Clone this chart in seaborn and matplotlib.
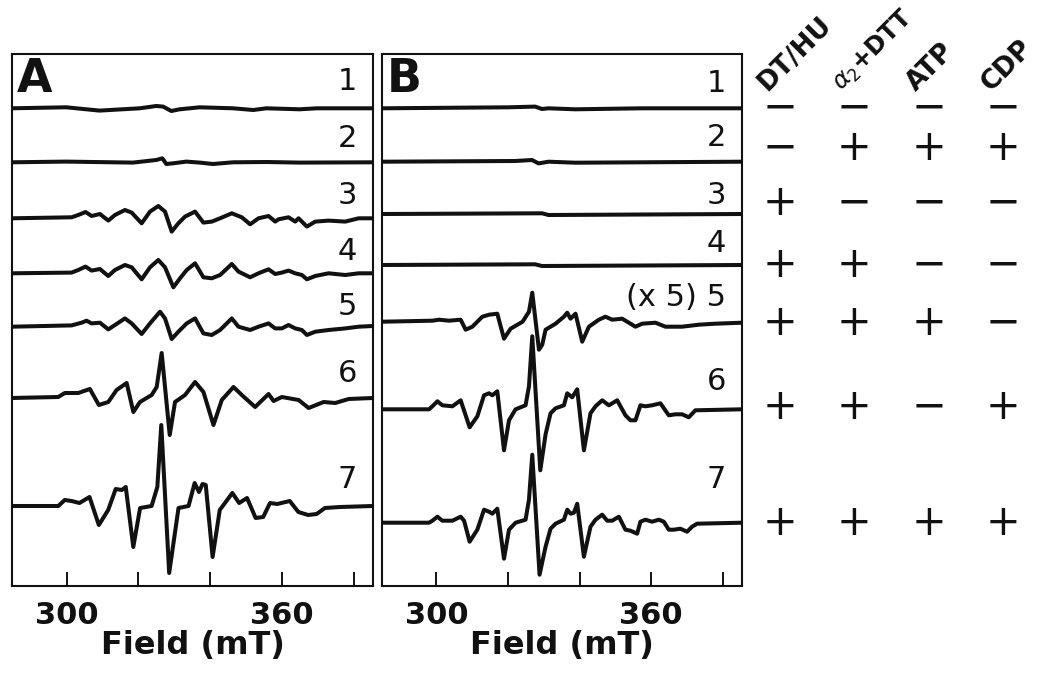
import matplotlib
matplotlib.use("Agg")
import matplotlib.pyplot as plt
import seaborn as sns

# ---------------- data (field in mT, intensity in arbitrary units) ----------------
# Panel A
A1_field = [284.65, 299.9, 309.2, 320.4, 325.0, 326.9, 329.2, 331.5, 337.1, 346.4, 352.0, 355.7, 365.0, 369.7, 385.4]
A1_amp = [0, 1, -2.3, 0, 2.3, 1.7, -2.7, -1, 1, 0, -1.7, 0, -1, 0, 0]

A2_field = [284.65, 299.9, 318.5, 325.0, 326.7, 327.8, 329.7, 333.4, 337.1, 340.8, 346.4, 355.7, 365.0, 385.4]
A2_amp = [0, 0.7, -0.3, 2.3, 4, -1.7, -1, 0.7, -0.3, -1.7, 0, 0.3, -0.3, 0]

A3_field = [284.65, 301.40, 303.26, 305.30, 306.98, 309.30, 311.63, 313.49, 316.28, 318.14, 320.93, 323.26,
            325.58, 327.44, 329.30, 331.16, 333.02, 335.81, 338.14, 340.47, 342.79, 346.05, 348.84, 351.16,
            353.49, 356.28, 358.14, 359.07, 361.86, 363.72, 364.65, 366.98, 369.30, 373.02, 377.67, 381.40, 385.4]
A3_amp = [0, 1, 3.3, 6.3, 2.3, 4.3, -2.3, 3.3, 8.3, 5.7, -5, 6.7, 12.3, 6.7, -13.3, -5, 1.7, 6.7, -4.3, -3.3,
          0, 5, 1, -6, 0, 2.3, -3.3, -1, 1, -3.3, 0, -8.3, -3.3, -2.3, -3.3, 0, 0]

A4_field = [284.65, 301.40, 303.26, 305.30, 306.98, 309.30, 311.63, 313.49, 316.28, 318.14, 320.93, 323.26,
            325.58, 327.44, 329.77, 331.63, 333.49, 335.81, 338.14, 340.47, 342.79, 346.05, 347.91, 351.16,
            353.49, 356.28, 358.14, 360.00, 361.86, 363.72, 365.58, 366.98, 369.30, 373.02, 377.67, 381.40, 385.4]
A4_amp = [0, 0.7, 3.3, 6.7, 2.7, 4.3, -2.7, 3.3, 8.3, 6, -6, 6, 13.3, 6, -14, -5, 3.3, 10, -4, -5, -1.7, 9.3,
          1.7, -4, 0, 4, -0.7, 0.7, 2.7, 0, -1.7, -6, -2.7, 0, -1.7, 0, 0]

A5_field = [284.65, 301.40, 304.19, 305.58, 306.98, 309.30, 311.63, 313.49, 316.28, 318.14, 320.93, 323.26,
            326.05, 327.44, 329.30, 331.16, 333.49, 335.81, 338.14, 340.47, 342.79, 346.05, 347.91, 351.16,
            353.49, 356.28, 358.14, 360.00, 361.86, 363.72, 365.58, 366.98, 369.30, 373.02, 377.67, 381.40, 385.4]
A5_amp = [0, 1.3, 4, 6, 3.3, 4, -2.7, 1.7, 8.3, 3.3, -7.3, 3.3, 15, 8.3, -12.3, -5, 3.3, 8.3, -6.7, -8.3, -3.3,
          8.3, 0, -3.3, 0, 3.3, -1.7, -1.7, 1.7, -1.7, -3.3, -8.3, -5, -3.3, -1.7, 0, 0.7]

A6_field = [284.65, 297.68, 299.53, 303.27, 306.50, 309.01, 311.64, 313.95, 316.75, 318.62, 320.46, 323.72,
            325.12, 326.51, 328.75, 330.23, 333.02, 335.81, 338.15, 340.94, 343.26, 346.52, 348.84, 352.55,
            356.29, 357.69, 360.01, 364.67, 367.46, 371.64, 374.88, 378.62, 385.4]
A6_amp = [0, 1, 5, 5, 9, -7, -4, 8, 15, -14, -4, 3, 11, 45, -37, -4, 3, 16, 6, -27, -2, 11, 3, -9, 4, -3, 1,
          -2, -10, -4, -5, -1, 0]

A7_field = [284.65, 297.7, 299.5, 301.4, 303.6, 306.4, 309.0, 311.6, 313.7, 315.4, 316.5, 318.6, 320.5, 323.7,
            325.3, 326.4, 328.6, 331.2, 334.0, 335.7, 336.9, 337.9, 338.8, 340.7, 342.7, 346.2, 348.1, 350.3,
            352.7, 354.8, 356.7, 358.7, 362.2, 364.6, 367.3, 369.7, 372.0, 376.2, 385.4]
A7_amp = [0, 0, 6, 5, 3, 9, -19, -4, 17, 16, 19, -41, -2, 0, 19, 81, -67, -2, 0, 23, 14, 22, 21, -51, -4, 13,
          3, 8, -12, -11, 3, 2, 5, -6, -9, -8, -2, -1, 0]

# Panel B
B1_field = [284.93, 320.2, 327.6, 329.5, 331.35, 338.8, 357.4, 385.4]
B1_amp = [0, 1, 1.7, -0.7, 0, -1, 0, 0]

B2_field = [284.93, 322.05, 326.7, 328.56, 331.35, 338.8, 385.4]
B2_amp = [0, 0.7, 1.7, -1.7, 0, -1, 0]

B3_field = [284.93, 329.5, 331.35, 385.4]
B3_amp = [0, 0.7, -1, 0]

B4_field = [284.93, 327.6, 329.5, 385.4]
B4_amp = [0, 0.7, -1, 0]

B5_field = [284.93, 298.88, 300.75, 303.54, 306.78, 308.18, 310.05, 312.84, 314.71, 317.02, 318.89, 320.74,
            324.09, 325.87, 326.79, 328.66, 329.58, 330.51, 333.30, 335.64, 336.56, 337.48, 338.88, 340.75,
            342.62, 345.41, 347.25, 349.12, 351.91, 355.62, 357.49, 361.21, 364.00, 368.66, 373.32, 377.95, 385.4]
B5_amp = [0, 1, 2, 1, 2, -8, -5, 5, 7, 8, -17, -7, 0, 10, 29, -28, -23, -8, -2, 5, 9, 3, 8, -20, -5, 2, 5,
          2, 3, -5, -2, -1, -5, -5, -3, -2, -1]

B6_field = [284.93, 297.96, 298.88, 300.28, 301.67, 304.47, 306.78, 309.29, 311.44, 313.31, 314.71, 315.63,
            317.02, 318.89, 320.29, 322.13, 324.92, 325.87, 326.79, 329.03, 330.51, 331.90, 333.30, 335.64,
            336.56, 337.96, 339.35, 341.22, 343.06, 344.46, 346.33, 348.20, 350.52, 352.83, 354.23, 355.63,
            357.02, 358.41, 360.28, 362.60, 364.94, 366.79, 368.66, 370.53, 372.37, 385.4]
B6_amp = [0, 0, 3, 8, 4, 3, 9, -18, -7, 14, 16, 14, 18, -41, -11, 0, 4, 23, 73, -61, -25, -4, 1, 4, 16, 12,
          20, -41, -4, 3, 9, 4, 9, -6, -11, -11, 4, 3, 4, 6, -6, -5, -5, -8, -1, 0]

B7_field = [284.93, 297.96, 298.88, 300.28, 301.67, 304.47, 306.78, 307.73, 309.29, 311.44, 313.31, 314.71,
            315.63, 317.02, 318.89, 320.29, 322.13, 324.92, 325.87, 326.79, 328.83, 330.51, 331.90, 333.30,
            335.64, 336.56, 337.48, 338.43, 339.35, 341.22, 343.06, 344.46, 346.33, 347.73, 349.12, 350.99,
            352.83, 354.23, 356.10, 357.02, 358.41, 360.28, 362.15, 363.55, 364.94, 366.34, 368.18, 370.05,
            371.45, 372.84, 385.4]
B7_amp = [0, 0, 2, 6, 2, 2, 6, 2, -19, -7, 13, 11, 9, 14, -36, -7, 0, 3, 23, 68, -52, -24, -6, -1, 3, 13, 9,
          10, 19, -34, -4, 3, 8, 2, 2, 6, -7, -8, -11, 1, 3, 1, 3, 1, -7, -7, -6, -9, -4, -1, 0]

A_offsets = [477.7, 423.7, 367.7, 312.7, 259.3, 188, 80]
B_offsets = [477.7, 424.3, 372, 321, 264.3, 176.7, 63.3]

A_labels = ["1", "2", "3", "4", "5", "6", "7"]
B_labels = ["1", "2", "3", "4", "(x 5) 5", "6", "7"]

tick_values = [300, 320, 340, 360, 380]
tick_labels = ["300", "", "", "360", ""]
x_label = "Field (mT)"
panel_names = ["A", "B"]

conditions = ["DT/HU", r"$\alpha_2$+DTT", "ATP", "CDP"]
table_signs = [
    ["-", "-", "-", "-"],
    ["-", "+", "+", "+"],
    ["+", "-", "-", "-"],
    ["+", "+", "-", "-"],
    ["+", "+", "+", "-"],
    ["+", "+", "-", "+"],
    ["+", "+", "+", "+"],
]

# ---------------- layout / style ----------------
A_label_y = [504, 447.5, 391, 334.5, 279.5, 212, 106]
B_label_y = [503, 448, 391, 343, 288, 204, 106]
table_row_y = [478, 438, 383, 321, 263, 179, 63]
header_sizes = [19, 17.5, 19, 19]

sns.set_theme(style="white")
plt.rcParams["font.family"] = ["DejaVu Sans"]

W, H = 1050, 676
fig = plt.figure(figsize=(W / 100, H / 100), dpi=100)
fig.patch.set_facecolor("white")

def fx(px):
    return px / W

def fy(py):
    return 1 - py / H

ax_bottom, ax_top = fy(586), fy(54)
axA = fig.add_axes([fx(12), ax_bottom, fx(373) - fx(12), ax_top - ax_bottom])
axB = fig.add_axes([fx(382), ax_bottom, fx(742) - fx(382), ax_top - ax_bottom])
axT = fig.add_axes([fx(743), ax_bottom, fx(1040) - fx(743), ax_top - ax_bottom])

A_traces = [(A1_field, A1_amp), (A2_field, A2_amp), (A3_field, A3_amp), (A4_field, A4_amp),
            (A5_field, A5_amp), (A6_field, A6_amp), (A7_field, A7_amp)]
B_traces = [(B1_field, B1_amp), (B2_field, B2_amp), (B3_field, B3_amp), (B4_field, B4_amp),
            (B5_field, B5_amp), (B6_field, B6_amp), (B7_field, B7_amp)]

ink = "#111111"
for ax, traces, offsets, labels, label_y, name in [
    (axA, A_traces, A_offsets, A_labels, A_label_y, panel_names[0]),
    (axB, B_traces, B_offsets, B_labels, B_label_y, panel_names[1]),
]:
    for (fld, amp), off, lab, ly in zip(traces, offsets, labels, label_y):
        sns.lineplot(x=fld, y=[a + off for a in amp], ax=ax, color=ink, linewidth=2.9,
                     estimator=None, sort=False, solid_joinstyle="round", solid_capstyle="round")
        ax.text(381, ly, lab, ha="right", va="center", fontsize=22, color=ink)
    ax.set_xlim(284.8, 385.4)
    ax.set_ylim(0, 532)
    ax.set_yticks([])
    ax.set_xticks(tick_values)
    ax.set_xticklabels(tick_labels, fontsize=22, fontweight="bold")
    ax.tick_params(axis="x", direction="in", length=10, width=1.4, pad=11, colors=ink, bottom=True)
    ax.set_xlabel(x_label, fontsize=23, fontweight="bold", labelpad=0, color=ink)
    ax.set_ylabel("")
    for sp in ax.spines.values():
        sp.set_visible(True)
        sp.set_color(ink)
        sp.set_linewidth(1.5)
    ax.text(0.012, 0.953, name, transform=ax.transAxes, fontsize=33, fontweight="bold",
            ha="left", va="center", color=ink)

# condition table
axT.set_xlim(0, 4)
axT.set_ylim(0, 532)
axT.axis("off")
for j, (cond, fs) in enumerate(zip(conditions, header_sizes)):
    axT.text(j + 0.33, 494, cond, rotation=45, rotation_mode="anchor", ha="left", va="baseline",
             fontsize=fs, fontweight="bold", color=ink, clip_on=False)
for row, ry in zip(table_signs, table_row_y):
    for j, s in enumerate(row):
        glyph = "+" if s == "+" else "\u2212"
        axT.text(j + 0.5, ry, glyph, ha="center", va="center", fontsize=30, color=ink, clip_on=False)

fig.savefig("out.png", dpi=100, facecolor="white")
